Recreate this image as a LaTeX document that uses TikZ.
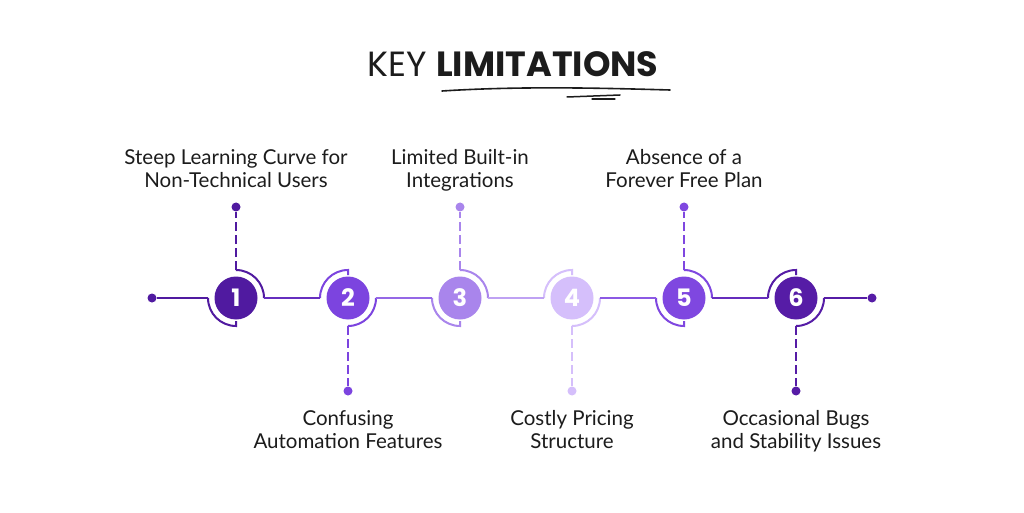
\documentclass[tikz,border=0pt]{standalone}
\usepackage{fontspec}
\setmainfont{Lato}
\newfontfamily\titlefont{Poppins}
\usetikzlibrary{positioning,calc}
\definecolor{limA}{HTML}{501AA0}
\definecolor{limB}{HTML}{7C44DF}
\definecolor{limC}{HTML}{A985EC}
\definecolor{limD}{HTML}{D5BFFB}
\definecolor{limE}{HTML}{7F47E0}
\definecolor{limF}{HTML}{561CA6}
\definecolor{limtext}{HTML}{1C1C1C}
\tikzset{
  numdot/.style={circle, fill=#1, minimum size=43pt, inner sep=0pt, text=white,
    font=\titlefont\bfseries\fontsize{24}{24}\selectfont},
  enddot/.style={circle, fill=#1, minimum size=9pt, inner sep=0pt},
  limline/.style={line width=2pt, draw=#1},
  limdash/.style={line width=2pt, draw=#1, dash pattern=on 9pt off 4pt},
  limlabel/.style={font=\fontsize{20.5}{23}\selectfont, align=center, text=limtext,
    inner sep=0pt, anchor=north},
}

\begin{document}
\begin{tikzpicture}[x=1pt,y=1pt]
  \path[use as bounding box, fill=white] (0,0) rectangle (1024,512);
  % titel
  \node[text=limtext] (title) at (513,448)
    {\titlefont\fontsize{35}{35}\selectfont KEY \textbf{LIMITATIONS}};
  \draw[line width=1.6pt, limtext, line cap=round]
    (442,421) .. controls (520,426) and (600,424) .. (670,422);
  \draw[line width=1.5pt, limtext, line cap=round] (567,415) -- (620,417);
  \draw[line width=1.2pt, limtext, line cap=round] (592,413) -- (615,413);
  % kreise mit boegen
  \foreach \i/\x/\c in {1/236/limA,2/348/limB,3/460/limC,4/572/limD,5/684/limE,6/796/limF} {
    \node[numdot=\c] (c\i) at (\x,214) {\i};
    \coordinate (l\i) at ([xshift=-28pt]c\i.center);
    \coordinate (r\i) at ([xshift=28pt]c\i.center);
    \coordinate (u\i) at ([yshift=28pt]c\i.center);
    \coordinate (d\i) at ([yshift=-28pt]c\i.center);
    \ifodd\i
      \draw[limline=\c] (u\i) arc[start angle=90, end angle=0, radius=28];
      \draw[limline=\c] (l\i) arc[start angle=180, end angle=270, radius=28] -- ++(0,5);
      \node[enddot=\c] (t\i) at (\x,305) {};
      \draw[limdash=\c] (u\i) -- (t\i);
    \else
      \draw[limline=\c] (l\i) arc[start angle=180, end angle=90, radius=28] -- ++(0,-5);
      \draw[limline=\c] (r\i) arc[start angle=0, end angle=-90, radius=28];
      \node[enddot=\c] (t\i) at (\x,121) {};
      \draw[limdash=\c] (d\i) -- (t\i);
    \fi
  }
  % linie
  \node[enddot=limA] (dotL) at (152,214) {};
  \node[enddot=limF] (dotR) at (872,214) {};
  \draw[limline=limA] (dotL) -- (l1);
  \draw[limline=limA!50!limB] (r1) -- (l2);
  \draw[limline=limB!45!limC] (r2) -- (l3);
  \draw[limline=limC!50!limD] (r3) -- (l4);
  \draw[limline=limE!85!limD] (r4) -- (l5);
  \draw[limline=limE!40!limF] (r5) -- (l6);
  \draw[limline=limF] (r6) -- (dotR);
  % texte
  \node[limlabel] (txt1) at (236,363) {Steep Learning Curve for\\Non-Technical Users};
  \node[limlabel] (txt3) at (460,363) {Limited Built-in\\Integrations};
  \node[limlabel] (txt5) at (684,363) {Absence of a\\Forever Free Plan};
  \node[limlabel] (txt2) at (348,102) {Confusing\\Automation Features};
  \node[limlabel] (txt4) at (572,102) {Costly Pricing\\Structure};
  \node[limlabel] (txt6) at (796,102) {Occasional Bugs\\and Stability Issues};
\end{tikzpicture}
\end{document}
